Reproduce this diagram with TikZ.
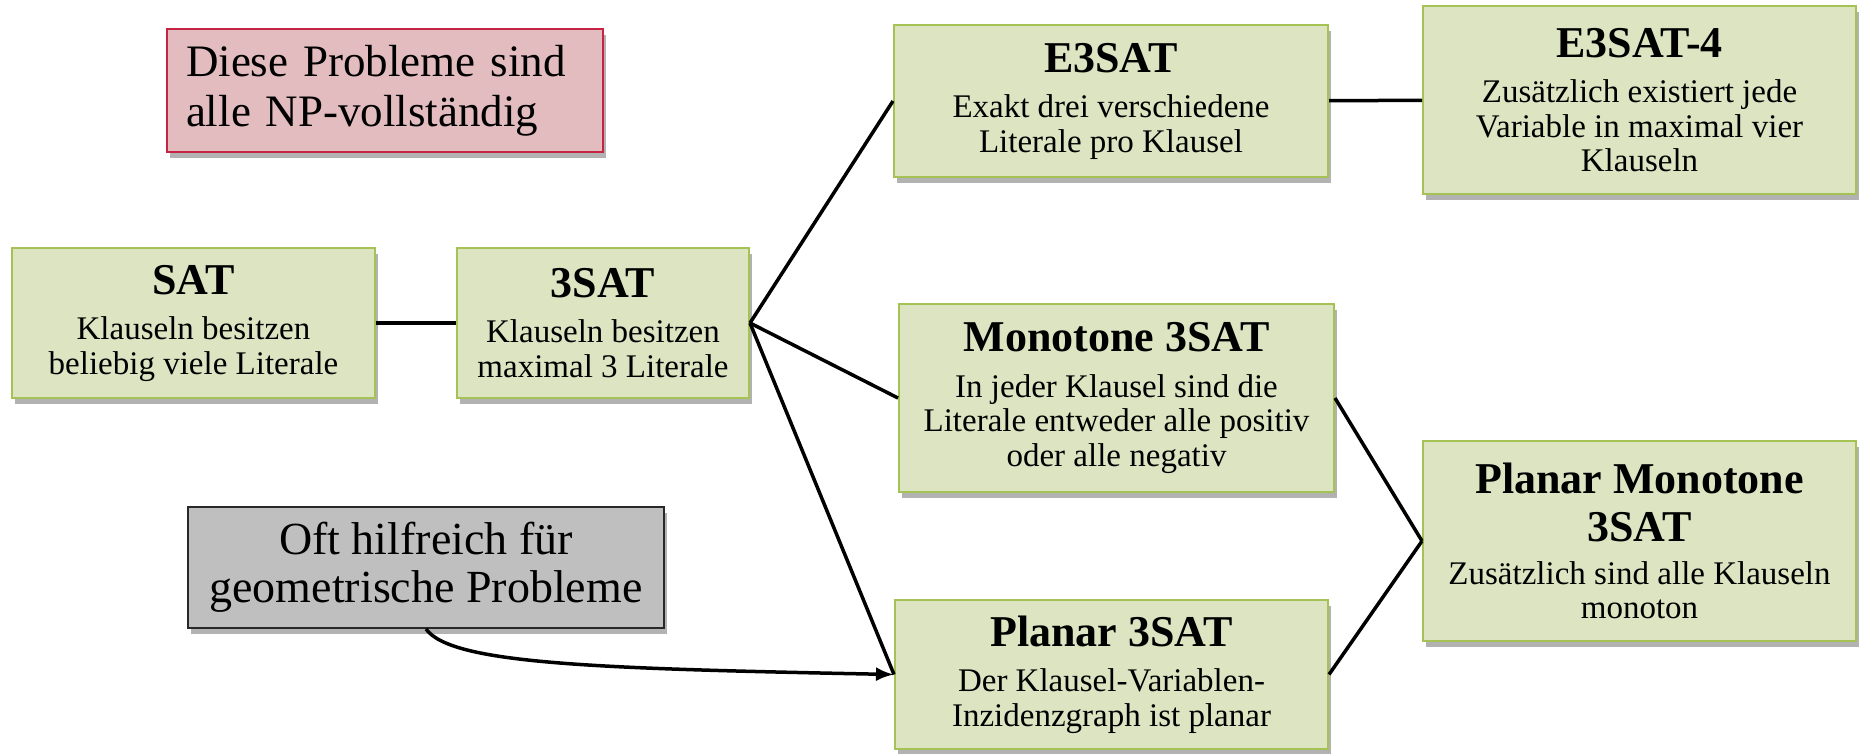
\documentclass[tikz,border=0pt]{standalone}
\usepackage{fontspec}
\setmainfont{Liberation Serif}
\usepackage{xcolor}
\usepackage{tikz}
\usetikzlibrary{arrows, arrows.meta, shadows}
\definecolor{probfill}{RGB}{220,228,194}
\definecolor{probline}{RGB}{165,195,85}
\definecolor{notefill}{RGB}{227,188,192}
\definecolor{noteline}{RGB}{198,36,68}
\definecolor{hintfill}{RGB}{191,191,191}
\definecolor{hintline}{RGB}{40,40,40}
\newcommand{\probtitle}{\fontsize{44}{48}\selectfont\bfseries}
\tikzset{every picture/.style={x=1pt,y=1pt},
  boxshadow/.style={drop shadow={shadow xshift=3pt, shadow yshift=-6pt, fill=black, opacity=0.3}},
  prob/.style={rectangle, draw=probline, fill=probfill, line width=2pt, align=center, inner sep=0pt,
    font=\fontsize{33}{34.5}\selectfont, boxshadow},
  note/.style={rectangle, draw=noteline, fill=notefill, line width=2pt, align=left, inner ysep=0pt,
    inner xsep=19pt, text width=398pt, font=\fontsize{45}{50}\selectfont, boxshadow},
  hint/.style={rectangle, draw=hintline, fill=hintfill, line width=2pt, align=center, inner sep=0pt,
    font=\fontsize{46}{48}\selectfont, boxshadow},
  link/.style={line width=3.5pt, black}}

\begin{document}
\begin{tikzpicture}
  \useasboundingbox (0,0) rectangle (1862,-753);

  \node[note, minimum height=123pt] (note) at (385,-90.5){Diese Probleme sind\\alle NP-vollständig};
  \node[hint, minimum width=476pt, minimum height=121pt] (hint) at (426,-567.5){Oft hilfreich für\\geometrische Probleme};

  \node[prob, minimum width=363pt, minimum height=150pt] (sat) at (193.5,-323){{\probtitle SAT}\\[11pt]Klauseln besitzen\\beliebig viele Literale};
  \node[prob, minimum width=292pt, minimum height=150pt] (tsat) at (603,-323){{\probtitle 3SAT}\\[11pt]Klauseln besitzen\\maximal 3 Literale};
  \node[prob, minimum width=434pt, minimum height=152pt] (e3) at (1111,-101){{\probtitle E3SAT}\\[11pt]Exakt drei verschiedene\\Literale pro Klausel};
  \node[prob, minimum width=433pt, minimum height=188pt] (e34) at (1639.5,-100){{\probtitle E3SAT-4}\\[11pt]Zusätzlich existiert jede\\Variable in maximal vier\\Klauseln};
  \node[prob, minimum width=435pt, minimum height=188pt] (mono) at (1116.5,-398){{\probtitle Monotone 3SAT}\\[11pt]In jeder Klausel sind die\\Literale entweder alle positiv\\oder alle negativ};
  \node[prob, minimum width=433pt, minimum height=149pt] (plan) at (1111.5,-674.5){{\probtitle Planar 3SAT}\\[11pt]Der Klausel-Variablen-\\Inzidenzgraph ist planar};
  \node[prob, minimum width=433pt, minimum height=200pt] (pmono) at (1639.5,-541){{\probtitle Planar Monotone}\\[14pt]{\probtitle 3SAT}\\[8pt]Zusätzlich sind alle Klauseln\\monoton};

  \draw[link](sat)--(tsat);
  \draw[link](tsat.east)--(e3.west);
  \draw[link](tsat.east)--(mono.west);
  \draw[link](tsat.east)--(plan.west);
  \draw[link](e3)--(e34);
  \draw[link](mono.east)--(pmono.west);
  \draw[link](plan.east)--(pmono.west);
  \draw[link, -{Latex[length=18pt, width=14pt]}](hint.south) .. controls +(25,-35) and +(-300,6) .. (plan.west);
\end{tikzpicture}
\end{document}
